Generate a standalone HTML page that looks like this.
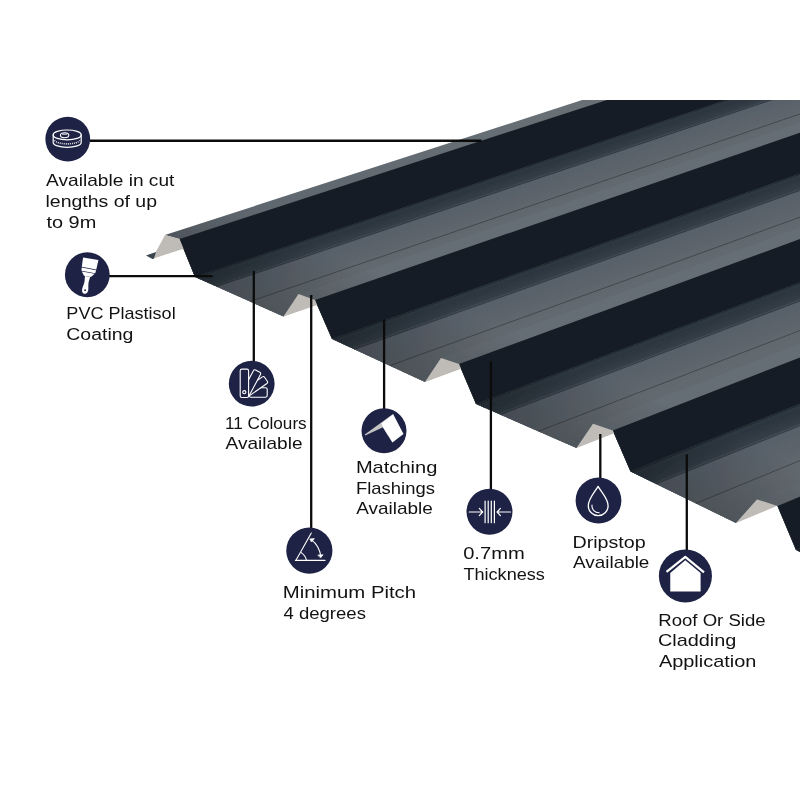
<!DOCTYPE html>
<html><head><meta charset="utf-8"><title>Roof Sheet</title>
<style>
html,body{margin:0;padding:0;background:#fff;}
body{width:800px;height:800px;position:relative;overflow:hidden;}
svg{position:absolute;left:0;top:0;}
text{font-family:"Liberation Sans",sans-serif;font-size:16.2px;fill:#111111;}
</style></head>
<body>
<svg width="800" height="800" viewBox="0 0 800 800">
<defs><clipPath id="c"><rect x="0" y="100" width="800" height="700"/></clipPath>
<filter id="soft" x="-5%" y="-5%" width="110%" height="110%"><feGaussianBlur stdDeviation="0.45"/></filter></defs>
<g clip-path="url(#c)"><g filter="url(#soft)">
<defs>
<linearGradient id="top1" gradientUnits="userSpaceOnUse" x1="165" y1="235" x2="582" y2="100">
<stop offset="0" stop-color="#5b636b"/><stop offset="0.5" stop-color="#636b72"/><stop offset="1" stop-color="#687076"/></linearGradient>
<linearGradient id="front" gradientUnits="userSpaceOnUse" x1="450" y1="394" x2="483" y2="321">
<stop offset="0" stop-color="#000" stop-opacity="0.22"/><stop offset="1" stop-color="#000" stop-opacity="0"/></linearGradient>
<clipPath id="rc"><polygon points="195.0,277.0 283.5,316.5 298.5,294.0 1302.7,-50.0 1176.9,-50.0" fill="#000"/>
<polygon points="332.0,339.0 425.0,382.0 441.0,358.0 1561.7,-50.0 1433.6,-50.0" fill="#000"/>
<polygon points="476.0,404.0 576.5,448.0 593.0,423.8 1814.7,-50.0 1685.6,-50.0" fill="#000"/>
<polygon points="630.5,471.5 736.0,523.0 757.0,499.4 2077.5,-50.0 1933.8,-50.0" fill="#000"/>
<polygon points="796.0,550.0 946.0,620.0 961.0,596.0 2382.6,-50.0 2192.3,-50.0" fill="#000"/>
<polygon points="165.0,235.0 179.5,239.0 1068.2,-50.0 1045.7,-50.0" fill="#000"/>
<polygon points="298.5,294.0 315.0,300.0 1330.2,-50.0 1302.7,-50.0" fill="#000"/>
<polygon points="441.0,358.0 459.0,364.0 1588.7,-50.0 1561.7,-50.0" fill="#000"/>
<polygon points="593.0,423.8 612.8,430.6 1842.9,-50.0 1814.7,-50.0" fill="#000"/>
<polygon points="757.0,499.4 777.5,506.0 2104.0,-50.0 2077.5,-50.0" fill="#000"/></clipPath>
</defs>
<polygon points="179.5,239.0 195.0,277.0 283.5,316.5 298.5,294.0 315.0,300.0 1330.2,-50.0 1068.2,-50.0" fill="#5d656d"/>
<polygon points="179.5,239.0 195.0,277.0 197.4,278.1 1181.4,-50.0 1068.2,-50.0" fill="#202931"/>
<polygon points="196.5,277.7 198.8,278.7 1184.3,-50.0 1179.7,-50.0" fill="#2f3941"/>
<polygon points="197.9,278.3 200.3,279.4 1187.1,-50.0 1182.6,-50.0" fill="#2f3841"/>
<polygon points="199.4,279.0 201.8,280.0 1189.9,-50.0 1185.4,-50.0" fill="#2d363f"/>
<polygon points="200.9,279.6 203.3,280.7 1192.7,-50.0 1188.2,-50.0" fill="#2d3740"/>
<polygon points="202.4,280.3 204.7,281.3 1195.6,-50.0 1191.0,-50.0" fill="#2e3740"/>
<polygon points="203.8,280.9 206.2,282.0 1198.4,-50.0 1193.9,-50.0" fill="#2f3841"/>
<polygon points="205.3,281.6 207.7,282.7 1201.2,-50.0 1196.7,-50.0" fill="#303942"/>
<polygon points="206.8,282.3 209.2,283.3 1204.0,-50.0 1199.5,-50.0" fill="#313a43"/>
<polygon points="208.3,282.9 210.6,284.0 1206.8,-50.0 1202.3,-50.0" fill="#313b44"/>
<polygon points="209.8,283.6 212.1,284.6 1209.6,-50.0 1205.1,-50.0" fill="#323c45"/>
<polygon points="211.2,284.2 213.6,285.3 1212.5,-50.0 1208.0,-50.0" fill="#333d46"/>
<polygon points="212.7,284.9 215.1,286.0 1215.3,-50.0 1210.8,-50.0" fill="#343e47"/>
<polygon points="214.2,285.6 216.5,286.6 1218.1,-50.0 1213.6,-50.0" fill="#404953"/>
<polygon points="215.7,286.2 218.0,287.3 1220.9,-50.0 1216.4,-50.0" fill="#545c66"/>
<polygon points="217.1,286.9 219.5,287.9 1223.7,-50.0 1219.2,-50.0" fill="#58606a"/>
<polygon points="218.6,287.5 221.0,288.6 1226.5,-50.0 1222.0,-50.0" fill="#59616a"/>
<polygon points="220.1,288.2 222.4,289.2 1229.3,-50.0 1224.8,-50.0" fill="#59616b"/>
<polygon points="221.6,288.9 223.9,289.9 1232.1,-50.0 1227.6,-50.0" fill="#59616b"/>
<polygon points="223.0,289.5 225.4,290.6 1234.9,-50.0 1230.4,-50.0" fill="#5a626b"/>
<polygon points="224.5,290.2 226.9,291.2 1237.7,-50.0 1233.2,-50.0" fill="#5a626b"/>
<polygon points="226.0,290.8 228.3,291.9 1240.4,-50.0 1236.0,-50.0" fill="#5a626b"/>
<polygon points="227.4,291.5 229.8,292.5 1243.2,-50.0 1238.8,-50.0" fill="#5b636b"/>
<polygon points="228.9,292.1 231.3,293.2 1246.0,-50.0 1241.6,-50.0" fill="#5b636c"/>
<polygon points="230.4,292.8 232.8,293.9 1248.8,-50.0 1244.4,-50.0" fill="#5b636c"/>
<polygon points="231.9,293.5 234.2,294.5 1251.6,-50.0 1247.1,-50.0" fill="#5c646c"/>
<polygon points="233.3,294.1 235.7,295.2 1254.4,-50.0 1249.9,-50.0" fill="#5c646c"/>
<polygon points="234.8,294.8 237.2,295.8 1257.1,-50.0 1252.7,-50.0" fill="#5c646c"/>
<polygon points="236.3,295.4 238.7,296.5 1259.9,-50.0 1255.5,-50.0" fill="#5d656d"/>
<polygon points="237.8,296.1 240.1,297.1 1262.7,-50.0 1258.3,-50.0" fill="#5d656d"/>
<polygon points="239.2,296.8 241.6,297.8 1265.5,-50.0 1261.0,-50.0" fill="#5d656d"/>
<polygon points="240.7,297.4 243.1,298.5 1268.2,-50.0 1263.8,-50.0" fill="#5e666d"/>
<polygon points="242.2,298.1 244.6,299.1 1271.0,-50.0 1266.6,-50.0" fill="#5e666d"/>
<polygon points="243.7,298.7 246.0,299.8 1273.8,-50.0 1269.4,-50.0" fill="#5e666e"/>
<polygon points="245.2,299.4 247.5,300.4 1276.5,-50.0 1272.1,-50.0" fill="#5f676e"/>
<polygon points="246.6,300.0 249.0,301.1 1279.3,-50.0 1274.9,-50.0" fill="#5f676e"/>
<polygon points="248.1,300.7 250.5,301.8 1282.1,-50.0 1277.6,-50.0" fill="#60686e"/>
<polygon points="249.6,301.4 251.9,302.4 1284.8,-50.0 1280.4,-50.0" fill="#62696f"/>
<polygon points="251.1,302.0 253.4,303.1 1287.6,-50.0 1283.2,-50.0" fill="#62696f"/>
<polygon points="252.5,302.7 254.9,303.7 1290.3,-50.0 1285.9,-50.0" fill="#62696f"/>
<polygon points="254.0,303.3 256.4,304.4 1293.1,-50.0 1288.7,-50.0" fill="#626970"/>
<polygon points="255.5,304.0 257.8,305.0 1295.8,-50.0 1291.4,-50.0" fill="#626a70"/>
<polygon points="256.9,304.6 259.3,305.7 1298.6,-50.0 1294.2,-50.0" fill="#636a70"/>
<polygon points="258.4,305.3 260.8,306.4 1301.3,-50.0 1296.9,-50.0" fill="#636a70"/>
<polygon points="259.9,306.0 262.3,307.0 1304.1,-50.0 1299.7,-50.0" fill="#636a71"/>
<polygon points="261.4,306.6 263.7,307.7 1306.8,-50.0 1302.4,-50.0" fill="#636a71"/>
<polygon points="262.9,307.3 265.2,308.3 1309.6,-50.0 1305.2,-50.0" fill="#636b71"/>
<polygon points="264.3,307.9 266.7,309.0 1312.3,-50.0 1307.9,-50.0" fill="#636b71"/>
<polygon points="265.8,308.6 268.2,309.7 1315.0,-50.0 1310.7,-50.0" fill="#636b71"/>
<polygon points="267.3,309.3 269.6,310.3 1317.8,-50.0 1313.4,-50.0" fill="#646b72"/>
<polygon points="268.8,309.9 271.1,311.0 1320.5,-50.0 1316.1,-50.0" fill="#646b72"/>
<polygon points="270.2,310.6 272.6,311.6 1323.2,-50.0 1318.9,-50.0" fill="#646b72"/>
<polygon points="271.7,311.2 274.1,312.3 1326.0,-50.0 1321.6,-50.0" fill="#646c72"/>
<polygon points="273.2,311.9 275.5,312.9 1328.7,-50.0 1324.3,-50.0" fill="#646c73"/>
<polygon points="274.6,312.6 277.0,313.6 1331.4,-50.0 1327.1,-50.0" fill="#646c73"/>
<polygon points="276.1,313.2 278.5,314.3 1334.2,-50.0 1329.8,-50.0" fill="#646c73"/>
<polygon points="277.6,313.9 280.0,314.9 1336.9,-50.0 1332.5,-50.0" fill="#656c73"/>
<polygon points="279.1,314.5 281.4,315.6 1339.6,-50.0 1335.2,-50.0" fill="#656d73"/>
<polygon points="280.6,315.2 282.9,316.2 1342.3,-50.0 1338.0,-50.0" fill="#656d74"/>
<polygon points="282.0,315.8 283.5,316.5 298.5,294.0 315.0,300.0 1330.2,-50.0 1340.7,-50.0" fill="#656d74"/>
<line x1="216.2" y1="286.5" x2="1217.5" y2="-50.0" stroke="#222a31" stroke-width="0.9" stroke-opacity="0.8"/>
<line x1="249.9" y1="301.5" x2="1281.0" y2="-50.0" stroke="#262e35" stroke-width="0.9" stroke-opacity="0.6"/>
<polygon points="315.0,300.0 332.0,339.0 425.0,382.0 441.0,358.0 459.0,364.0 1588.7,-50.0 1330.2,-50.0" fill="#5d656d"/>
<polygon points="315.0,300.0 332.0,339.0 334.5,340.1 1438.2,-50.0 1330.2,-50.0" fill="#202931"/>
<polygon points="333.6,339.7 336.0,340.9 1441.0,-50.0 1436.5,-50.0" fill="#2f3941"/>
<polygon points="335.1,340.4 337.6,341.6 1443.8,-50.0 1439.3,-50.0" fill="#2f3841"/>
<polygon points="336.6,341.1 339.1,342.3 1446.7,-50.0 1442.1,-50.0" fill="#2d363f"/>
<polygon points="338.2,341.9 340.7,343.0 1449.5,-50.0 1445.0,-50.0" fill="#2d3740"/>
<polygon points="339.8,342.6 342.2,343.7 1452.3,-50.0 1447.8,-50.0" fill="#2e3740"/>
<polygon points="341.3,343.3 343.8,344.4 1455.2,-50.0 1450.6,-50.0" fill="#2f3841"/>
<polygon points="342.9,344.0 345.3,345.2 1458.0,-50.0 1453.5,-50.0" fill="#303942"/>
<polygon points="344.4,344.7 346.9,345.9 1460.8,-50.0 1456.3,-50.0" fill="#313a43"/>
<polygon points="345.9,345.4 348.4,346.6 1463.6,-50.0 1459.1,-50.0" fill="#313b44"/>
<polygon points="347.5,346.2 350.0,347.3 1466.5,-50.0 1461.9,-50.0" fill="#323c45"/>
<polygon points="349.1,346.9 351.5,348.0 1469.3,-50.0 1464.8,-50.0" fill="#333d46"/>
<polygon points="350.6,347.6 353.1,348.7 1472.1,-50.0 1467.6,-50.0" fill="#343e47"/>
<polygon points="352.1,348.3 354.6,349.5 1474.9,-50.0 1470.4,-50.0" fill="#404953"/>
<polygon points="353.7,349.0 356.2,350.2 1477.7,-50.0 1473.2,-50.0" fill="#545c66"/>
<polygon points="355.2,349.8 357.7,350.9 1480.5,-50.0 1476.0,-50.0" fill="#58606a"/>
<polygon points="356.8,350.5 359.3,351.6 1483.3,-50.0 1478.8,-50.0" fill="#59616a"/>
<polygon points="358.4,351.2 360.8,352.3 1486.1,-50.0 1481.6,-50.0" fill="#59616b"/>
<polygon points="359.9,351.9 362.4,353.0 1488.9,-50.0 1484.5,-50.0" fill="#59616b"/>
<polygon points="361.4,352.6 363.9,353.8 1491.7,-50.0 1487.3,-50.0" fill="#5a626b"/>
<polygon points="363.0,353.3 365.5,354.5 1494.5,-50.0 1490.1,-50.0" fill="#5a626b"/>
<polygon points="364.6,354.1 367.0,355.2 1497.3,-50.0 1492.9,-50.0" fill="#5a626b"/>
<polygon points="366.1,354.8 368.6,355.9 1500.1,-50.0 1495.7,-50.0" fill="#5b636b"/>
<polygon points="367.6,355.5 370.1,356.6 1502.9,-50.0 1498.5,-50.0" fill="#5b636c"/>
<polygon points="369.2,356.2 371.7,357.3 1505.7,-50.0 1501.2,-50.0" fill="#5b636c"/>
<polygon points="370.8,356.9 373.2,358.1 1508.5,-50.0 1504.0,-50.0" fill="#5c646c"/>
<polygon points="372.3,357.6 374.8,358.8 1511.3,-50.0 1506.8,-50.0" fill="#5c646c"/>
<polygon points="373.9,358.4 376.3,359.5 1514.1,-50.0 1509.6,-50.0" fill="#5c646c"/>
<polygon points="375.4,359.1 377.9,360.2 1516.9,-50.0 1512.4,-50.0" fill="#5d656d"/>
<polygon points="376.9,359.8 379.4,360.9 1519.6,-50.0 1515.2,-50.0" fill="#5d656d"/>
<polygon points="378.5,360.5 381.0,361.6 1522.4,-50.0 1518.0,-50.0" fill="#5d656d"/>
<polygon points="380.1,361.2 382.5,362.4 1525.2,-50.0 1520.7,-50.0" fill="#5e666d"/>
<polygon points="381.6,361.9 384.1,363.1 1528.0,-50.0 1523.5,-50.0" fill="#5e666d"/>
<polygon points="383.1,362.6 385.6,363.8 1530.7,-50.0 1526.3,-50.0" fill="#5e666e"/>
<polygon points="384.7,363.4 387.2,364.5 1533.5,-50.0 1529.1,-50.0" fill="#5f676e"/>
<polygon points="386.2,364.1 388.7,365.2 1536.3,-50.0 1531.8,-50.0" fill="#5f676e"/>
<polygon points="387.8,364.8 390.3,365.9 1539.0,-50.0 1534.6,-50.0" fill="#60686e"/>
<polygon points="389.4,365.5 391.8,366.7 1541.8,-50.0 1537.4,-50.0" fill="#62696f"/>
<polygon points="390.9,366.2 393.4,367.4 1544.6,-50.0 1540.1,-50.0" fill="#62696f"/>
<polygon points="392.4,366.9 394.9,368.1 1547.3,-50.0 1542.9,-50.0" fill="#62696f"/>
<polygon points="394.0,367.7 396.5,368.8 1550.1,-50.0 1545.7,-50.0" fill="#626970"/>
<polygon points="395.6,368.4 398.0,369.5 1552.8,-50.0 1548.4,-50.0" fill="#626a70"/>
<polygon points="397.1,369.1 399.6,370.2 1555.6,-50.0 1551.2,-50.0" fill="#636a70"/>
<polygon points="398.6,369.8 401.1,371.0 1558.3,-50.0 1553.9,-50.0" fill="#636a70"/>
<polygon points="400.2,370.5 402.7,371.7 1561.1,-50.0 1556.7,-50.0" fill="#636a71"/>
<polygon points="401.8,371.2 404.2,372.4 1563.8,-50.0 1559.4,-50.0" fill="#636a71"/>
<polygon points="403.3,372.0 405.8,373.1 1566.6,-50.0 1562.2,-50.0" fill="#636b71"/>
<polygon points="404.9,372.7 407.3,373.8 1569.3,-50.0 1564.9,-50.0" fill="#636b71"/>
<polygon points="406.4,373.4 408.9,374.5 1572.1,-50.0 1567.7,-50.0" fill="#636b71"/>
<polygon points="407.9,374.1 410.4,375.3 1574.8,-50.0 1570.4,-50.0" fill="#646b72"/>
<polygon points="409.5,374.8 412.0,376.0 1577.5,-50.0 1573.2,-50.0" fill="#646b72"/>
<polygon points="411.1,375.6 413.5,376.7 1580.3,-50.0 1575.9,-50.0" fill="#646b72"/>
<polygon points="412.6,376.3 415.1,377.4 1583.0,-50.0 1578.6,-50.0" fill="#646c72"/>
<polygon points="414.1,377.0 416.6,378.1 1585.7,-50.0 1581.4,-50.0" fill="#646c73"/>
<polygon points="415.7,377.7 418.2,378.8 1588.5,-50.0 1584.1,-50.0" fill="#646c73"/>
<polygon points="417.2,378.4 419.7,379.6 1591.2,-50.0 1586.8,-50.0" fill="#646c73"/>
<polygon points="418.8,379.1 421.3,380.3 1593.9,-50.0 1589.6,-50.0" fill="#656c73"/>
<polygon points="420.4,379.9 422.8,381.0 1596.6,-50.0 1592.3,-50.0" fill="#656d73"/>
<polygon points="421.9,380.6 424.4,381.7 1599.4,-50.0 1595.0,-50.0" fill="#656d74"/>
<polygon points="423.4,381.3 425.0,382.0 441.0,358.0 459.0,364.0 1588.7,-50.0 1597.7,-50.0" fill="#656d74"/>
<line x1="354.3" y1="349.3" x2="1474.3" y2="-50.0" stroke="#222a31" stroke-width="0.9" stroke-opacity="0.8"/>
<line x1="389.7" y1="365.7" x2="1537.9" y2="-50.0" stroke="#262e35" stroke-width="0.9" stroke-opacity="0.6"/>
<polygon points="459.0,364.0 476.0,404.0 576.5,448.0 593.0,423.8 612.8,430.6 1842.9,-50.0 1588.7,-50.0" fill="#5d656d"/>
<polygon points="459.0,364.0 476.0,404.0 478.7,405.2 1690.0,-50.0 1588.7,-50.0" fill="#202931"/>
<polygon points="477.7,404.7 480.4,405.9 1692.8,-50.0 1688.4,-50.0" fill="#2f3941"/>
<polygon points="479.4,405.5 482.0,406.6 1695.6,-50.0 1691.2,-50.0" fill="#2f3841"/>
<polygon points="481.0,406.2 483.7,407.4 1698.4,-50.0 1693.9,-50.0" fill="#2d363f"/>
<polygon points="482.7,406.9 485.4,408.1 1701.2,-50.0 1696.7,-50.0" fill="#2d3740"/>
<polygon points="484.4,407.7 487.1,408.8 1703.9,-50.0 1699.5,-50.0" fill="#2e3740"/>
<polygon points="486.1,408.4 488.7,409.6 1706.7,-50.0 1702.3,-50.0" fill="#2f3841"/>
<polygon points="487.7,409.1 490.4,410.3 1709.5,-50.0 1705.0,-50.0" fill="#303942"/>
<polygon points="489.4,409.9 492.1,411.0 1712.2,-50.0 1707.8,-50.0" fill="#313a43"/>
<polygon points="491.1,410.6 493.8,411.8 1715.0,-50.0 1710.6,-50.0" fill="#313b44"/>
<polygon points="492.8,411.3 495.4,412.5 1717.8,-50.0 1713.3,-50.0" fill="#323c45"/>
<polygon points="494.4,412.1 497.1,413.2 1720.5,-50.0 1716.1,-50.0" fill="#333d46"/>
<polygon points="496.1,412.8 498.8,414.0 1723.3,-50.0 1718.9,-50.0" fill="#343e47"/>
<polygon points="497.8,413.5 500.5,414.7 1726.1,-50.0 1721.6,-50.0" fill="#404953"/>
<polygon points="499.4,414.3 502.1,415.4 1728.8,-50.0 1724.4,-50.0" fill="#545c66"/>
<polygon points="501.1,415.0 503.8,416.2 1731.6,-50.0 1727.2,-50.0" fill="#58606a"/>
<polygon points="502.8,415.7 505.5,416.9 1734.3,-50.0 1729.9,-50.0" fill="#59616a"/>
<polygon points="504.5,416.5 507.2,417.6 1737.1,-50.0 1732.7,-50.0" fill="#59616b"/>
<polygon points="506.1,417.2 508.8,418.4 1739.8,-50.0 1735.4,-50.0" fill="#59616b"/>
<polygon points="507.8,417.9 510.5,419.1 1742.6,-50.0 1738.2,-50.0" fill="#5a626b"/>
<polygon points="509.5,418.7 512.2,419.8 1745.3,-50.0 1740.9,-50.0" fill="#5a626b"/>
<polygon points="511.2,419.4 513.9,420.6 1748.0,-50.0 1743.7,-50.0" fill="#5a626b"/>
<polygon points="512.9,420.1 515.5,421.3 1750.8,-50.0 1746.4,-50.0" fill="#5b636b"/>
<polygon points="514.5,420.9 517.2,422.0 1753.5,-50.0 1749.1,-50.0" fill="#5b636c"/>
<polygon points="516.2,421.6 518.9,422.8 1756.3,-50.0 1751.9,-50.0" fill="#5b636c"/>
<polygon points="517.9,422.3 520.6,423.5 1759.0,-50.0 1754.6,-50.0" fill="#5c646c"/>
<polygon points="519.5,423.1 522.2,424.2 1761.7,-50.0 1757.3,-50.0" fill="#5c646c"/>
<polygon points="521.2,423.8 523.9,425.0 1764.4,-50.0 1760.1,-50.0" fill="#5c646c"/>
<polygon points="522.9,424.5 525.6,425.7 1767.2,-50.0 1762.8,-50.0" fill="#5d656d"/>
<polygon points="524.6,425.3 527.3,426.4 1769.9,-50.0 1765.5,-50.0" fill="#5d656d"/>
<polygon points="526.2,426.0 528.9,427.2 1772.6,-50.0 1768.3,-50.0" fill="#5d656d"/>
<polygon points="527.9,426.7 530.6,427.9 1775.3,-50.0 1771.0,-50.0" fill="#5e666d"/>
<polygon points="529.6,427.5 532.3,428.6 1778.1,-50.0 1773.7,-50.0" fill="#5e666d"/>
<polygon points="531.3,428.2 534.0,429.4 1780.8,-50.0 1776.4,-50.0" fill="#5e666e"/>
<polygon points="533.0,428.9 535.6,430.1 1783.5,-50.0 1779.1,-50.0" fill="#5f676e"/>
<polygon points="534.6,429.7 537.3,430.8 1786.2,-50.0 1781.9,-50.0" fill="#5f676e"/>
<polygon points="536.3,430.4 539.0,431.6 1788.9,-50.0 1784.6,-50.0" fill="#60686e"/>
<polygon points="538.0,431.1 540.7,432.3 1791.6,-50.0 1787.3,-50.0" fill="#62696f"/>
<polygon points="539.6,431.9 542.3,433.0 1794.3,-50.0 1790.0,-50.0" fill="#62696f"/>
<polygon points="541.3,432.6 544.0,433.8 1797.0,-50.0 1792.7,-50.0" fill="#62696f"/>
<polygon points="543.0,433.3 545.7,434.5 1799.7,-50.0 1795.4,-50.0" fill="#626970"/>
<polygon points="544.7,434.1 547.4,435.2 1802.4,-50.0 1798.1,-50.0" fill="#626a70"/>
<polygon points="546.4,434.8 549.0,436.0 1805.1,-50.0 1800.8,-50.0" fill="#636a70"/>
<polygon points="548.0,435.5 550.7,436.7 1807.8,-50.0 1803.5,-50.0" fill="#636a70"/>
<polygon points="549.7,436.3 552.4,437.4 1810.5,-50.0 1806.2,-50.0" fill="#636a71"/>
<polygon points="551.4,437.0 554.1,438.2 1813.2,-50.0 1808.9,-50.0" fill="#636a71"/>
<polygon points="553.0,437.7 555.7,438.9 1815.9,-50.0 1811.6,-50.0" fill="#636b71"/>
<polygon points="554.7,438.5 557.4,439.6 1818.6,-50.0 1814.3,-50.0" fill="#636b71"/>
<polygon points="556.4,439.2 559.1,440.4 1821.3,-50.0 1817.0,-50.0" fill="#636b71"/>
<polygon points="558.1,439.9 560.8,441.1 1824.0,-50.0 1819.7,-50.0" fill="#646b72"/>
<polygon points="559.8,440.7 562.4,441.8 1826.7,-50.0 1822.4,-50.0" fill="#646b72"/>
<polygon points="561.4,441.4 564.1,442.6 1829.3,-50.0 1825.1,-50.0" fill="#646b72"/>
<polygon points="563.1,442.1 565.8,443.3 1832.0,-50.0 1827.7,-50.0" fill="#646c72"/>
<polygon points="564.8,442.9 567.5,444.0 1834.7,-50.0 1830.4,-50.0" fill="#646c73"/>
<polygon points="566.5,443.6 569.1,444.8 1837.4,-50.0 1833.1,-50.0" fill="#646c73"/>
<polygon points="568.1,444.3 570.8,445.5 1840.1,-50.0 1835.8,-50.0" fill="#646c73"/>
<polygon points="569.8,445.1 572.5,446.2 1842.7,-50.0 1838.4,-50.0" fill="#656c73"/>
<polygon points="571.5,445.8 574.2,447.0 1845.4,-50.0 1841.1,-50.0" fill="#656d73"/>
<polygon points="573.1,446.5 575.8,447.7 1848.1,-50.0 1843.8,-50.0" fill="#656d74"/>
<polygon points="574.8,447.3 576.5,448.0 593.0,423.8 612.8,430.6 1842.9,-50.0 1846.5,-50.0" fill="#656d74"/>
<line x1="500.1" y1="414.6" x2="1725.5" y2="-50.0" stroke="#222a31" stroke-width="0.9" stroke-opacity="0.8"/>
<line x1="538.3" y1="431.3" x2="1787.8" y2="-50.0" stroke="#262e35" stroke-width="0.9" stroke-opacity="0.6"/>
<polygon points="612.8,430.6 630.5,471.5 736.0,523.0 757.0,499.4 777.5,506.0 2104.0,-50.0 1842.9,-50.0" fill="#5d656d"/>
<polygon points="612.8,430.6 630.5,471.5 633.3,472.9 1938.4,-50.0 1842.9,-50.0" fill="#202931"/>
<polygon points="632.3,472.4 635.1,473.7 1941.3,-50.0 1936.7,-50.0" fill="#2f3941"/>
<polygon points="634.0,473.2 636.8,474.6 1944.2,-50.0 1939.6,-50.0" fill="#2f3841"/>
<polygon points="635.8,474.1 638.6,475.4 1947.1,-50.0 1942.5,-50.0" fill="#2d363f"/>
<polygon points="637.5,474.9 640.3,476.3 1950.0,-50.0 1945.4,-50.0" fill="#2d3740"/>
<polygon points="639.3,475.8 642.1,477.2 1952.9,-50.0 1948.3,-50.0" fill="#2e3740"/>
<polygon points="641.0,476.6 643.9,478.0 1955.8,-50.0 1951.1,-50.0" fill="#2f3841"/>
<polygon points="642.8,477.5 645.6,478.9 1958.6,-50.0 1954.0,-50.0" fill="#303942"/>
<polygon points="644.6,478.4 647.4,479.7 1961.5,-50.0 1956.9,-50.0" fill="#313a43"/>
<polygon points="646.3,479.2 649.1,480.6 1964.4,-50.0 1959.8,-50.0" fill="#313b44"/>
<polygon points="648.1,480.1 650.9,481.5 1967.3,-50.0 1962.7,-50.0" fill="#323c45"/>
<polygon points="649.8,480.9 652.7,482.3 1970.1,-50.0 1965.5,-50.0" fill="#333d46"/>
<polygon points="651.6,481.8 654.4,483.2 1973.0,-50.0 1968.4,-50.0" fill="#343e47"/>
<polygon points="653.4,482.7 656.2,484.0 1975.8,-50.0 1971.3,-50.0" fill="#404953"/>
<polygon points="655.1,483.5 657.9,484.9 1978.7,-50.0 1974.1,-50.0" fill="#545c66"/>
<polygon points="656.9,484.4 659.7,485.7 1981.6,-50.0 1977.0,-50.0" fill="#58606a"/>
<polygon points="658.6,485.2 661.4,486.6 1984.4,-50.0 1979.9,-50.0" fill="#59616a"/>
<polygon points="660.4,486.1 663.2,487.5 1987.3,-50.0 1982.7,-50.0" fill="#59616b"/>
<polygon points="662.1,486.9 665.0,488.3 1990.1,-50.0 1985.6,-50.0" fill="#59616b"/>
<polygon points="663.9,487.8 666.7,489.2 1993.0,-50.0 1988.4,-50.0" fill="#5a626b"/>
<polygon points="665.7,488.7 668.5,490.0 1995.8,-50.0 1991.3,-50.0" fill="#5a626b"/>
<polygon points="667.4,489.5 670.2,490.9 1998.7,-50.0 1994.1,-50.0" fill="#5a626b"/>
<polygon points="669.2,490.4 672.0,491.8 2001.5,-50.0 1997.0,-50.0" fill="#5b636b"/>
<polygon points="670.9,491.2 673.8,492.6 2004.4,-50.0 1999.8,-50.0" fill="#5b636c"/>
<polygon points="672.7,492.1 675.5,493.5 2007.2,-50.0 2002.6,-50.0" fill="#5b636c"/>
<polygon points="674.5,493.0 677.3,494.3 2010.0,-50.0 2005.5,-50.0" fill="#5c646c"/>
<polygon points="676.2,493.8 679.0,495.2 2012.9,-50.0 2008.3,-50.0" fill="#5c646c"/>
<polygon points="678.0,494.7 680.8,496.0 2015.7,-50.0 2011.2,-50.0" fill="#5c646c"/>
<polygon points="679.7,495.5 682.5,496.9 2018.5,-50.0 2014.0,-50.0" fill="#5d656d"/>
<polygon points="681.5,496.4 684.3,497.8 2021.3,-50.0 2016.8,-50.0" fill="#5d656d"/>
<polygon points="683.2,497.2 686.1,498.6 2024.2,-50.0 2019.6,-50.0" fill="#5d656d"/>
<polygon points="685.0,498.1 687.8,499.5 2027.0,-50.0 2022.5,-50.0" fill="#5e666d"/>
<polygon points="686.8,499.0 689.6,500.3 2029.8,-50.0 2025.3,-50.0" fill="#5e666d"/>
<polygon points="688.5,499.8 691.3,501.2 2032.6,-50.0 2028.1,-50.0" fill="#5e666e"/>
<polygon points="690.3,500.7 693.1,502.1 2035.4,-50.0 2030.9,-50.0" fill="#5f676e"/>
<polygon points="692.0,501.5 694.9,502.9 2038.2,-50.0 2033.7,-50.0" fill="#5f676e"/>
<polygon points="693.8,502.4 696.6,503.8 2041.1,-50.0 2036.6,-50.0" fill="#60686e"/>
<polygon points="695.6,503.3 698.4,504.6 2043.9,-50.0 2039.4,-50.0" fill="#62696f"/>
<polygon points="697.3,504.1 700.1,505.5 2046.7,-50.0 2042.2,-50.0" fill="#62696f"/>
<polygon points="699.1,505.0 701.9,506.3 2049.5,-50.0 2045.0,-50.0" fill="#62696f"/>
<polygon points="700.8,505.8 703.6,507.2 2052.3,-50.0 2047.8,-50.0" fill="#626970"/>
<polygon points="702.6,506.7 705.4,508.1 2055.1,-50.0 2050.6,-50.0" fill="#626a70"/>
<polygon points="704.4,507.6 707.2,508.9 2057.9,-50.0 2053.4,-50.0" fill="#636a70"/>
<polygon points="706.1,508.4 708.9,509.8 2060.6,-50.0 2056.2,-50.0" fill="#636a70"/>
<polygon points="707.9,509.3 710.7,510.6 2063.4,-50.0 2059.0,-50.0" fill="#636a71"/>
<polygon points="709.6,510.1 712.4,511.5 2066.2,-50.0 2061.8,-50.0" fill="#636a71"/>
<polygon points="711.4,511.0 714.2,512.4 2069.0,-50.0 2064.6,-50.0" fill="#636b71"/>
<polygon points="713.1,511.8 716.0,513.2 2071.8,-50.0 2067.3,-50.0" fill="#636b71"/>
<polygon points="714.9,512.7 717.7,514.1 2074.6,-50.0 2070.1,-50.0" fill="#636b71"/>
<polygon points="716.7,513.6 719.5,514.9 2077.4,-50.0 2072.9,-50.0" fill="#646b72"/>
<polygon points="718.4,514.4 721.2,515.8 2080.1,-50.0 2075.7,-50.0" fill="#646b72"/>
<polygon points="720.2,515.3 723.0,516.6 2082.9,-50.0 2078.5,-50.0" fill="#646b72"/>
<polygon points="721.9,516.1 724.7,517.5 2085.7,-50.0 2081.2,-50.0" fill="#646c72"/>
<polygon points="723.7,517.0 726.5,518.4 2088.4,-50.0 2084.0,-50.0" fill="#646c73"/>
<polygon points="725.5,517.9 728.3,519.2 2091.2,-50.0 2086.8,-50.0" fill="#646c73"/>
<polygon points="727.2,518.7 730.0,520.1 2094.0,-50.0 2089.6,-50.0" fill="#646c73"/>
<polygon points="729.0,519.6 731.8,520.9 2096.7,-50.0 2092.3,-50.0" fill="#656c73"/>
<polygon points="730.7,520.4 733.5,521.8 2099.5,-50.0 2095.1,-50.0" fill="#656d73"/>
<polygon points="732.5,521.3 735.3,522.7 2102.3,-50.0 2097.8,-50.0" fill="#656d74"/>
<polygon points="734.2,522.1 736.0,523.0 757.0,499.4 777.5,506.0 2104.0,-50.0 2100.6,-50.0" fill="#656d74"/>
<line x1="655.8" y1="483.9" x2="1975.3" y2="-50.0" stroke="#222a31" stroke-width="0.9" stroke-opacity="0.8"/>
<line x1="695.9" y1="503.4" x2="2039.9" y2="-50.0" stroke="#262e35" stroke-width="0.9" stroke-opacity="0.6"/>
<polygon points="777.5,506.0 796.0,550.0 946.0,620.0 961.0,596.0 976.0,602.0 2402.2,-50.0 2104.0,-50.0" fill="#5d656d"/>
<polygon points="777.5,506.0 796.0,550.0 800.0,551.9 2198.2,-50.0 2104.0,-50.0" fill="#202931"/>
<polygon points="798.5,551.2 802.5,553.0 2202.0,-50.0 2196.0,-50.0" fill="#2f3941"/>
<polygon points="801.0,552.3 805.0,554.2 2205.7,-50.0 2199.7,-50.0" fill="#2f3841"/>
<polygon points="803.5,553.5 807.5,555.4 2209.4,-50.0 2203.5,-50.0" fill="#2d363f"/>
<polygon points="806.0,554.7 810.0,556.5 2213.1,-50.0 2207.2,-50.0" fill="#2d3740"/>
<polygon points="808.5,555.8 812.5,557.7 2216.8,-50.0 2210.9,-50.0" fill="#2e3740"/>
<polygon points="811.0,557.0 815.0,558.9 2220.5,-50.0 2214.6,-50.0" fill="#2f3841"/>
<polygon points="813.5,558.2 817.5,560.0 2224.2,-50.0 2218.3,-50.0" fill="#303942"/>
<polygon points="816.0,559.3 820.0,561.2 2227.9,-50.0 2222.0,-50.0" fill="#313a43"/>
<polygon points="818.5,560.5 822.5,562.4 2231.6,-50.0 2225.7,-50.0" fill="#313b44"/>
<polygon points="821.0,561.7 825.0,563.5 2235.2,-50.0 2229.4,-50.0" fill="#323c45"/>
<polygon points="823.5,562.8 827.5,564.7 2238.9,-50.0 2233.0,-50.0" fill="#333d46"/>
<polygon points="826.0,564.0 830.0,565.9 2242.6,-50.0 2236.7,-50.0" fill="#343e47"/>
<polygon points="828.5,565.2 832.5,567.0 2246.3,-50.0 2240.4,-50.0" fill="#404953"/>
<polygon points="831.0,566.3 835.0,568.2 2249.9,-50.0 2244.1,-50.0" fill="#545c66"/>
<polygon points="833.5,567.5 837.5,569.4 2253.6,-50.0 2247.7,-50.0" fill="#58606a"/>
<polygon points="836.0,568.7 840.0,570.5 2257.3,-50.0 2251.4,-50.0" fill="#59616a"/>
<polygon points="838.5,569.8 842.5,571.7 2260.9,-50.0 2255.1,-50.0" fill="#59616b"/>
<polygon points="841.0,571.0 845.0,572.9 2264.6,-50.0 2258.7,-50.0" fill="#59616b"/>
<polygon points="843.5,572.2 847.5,574.0 2268.2,-50.0 2262.4,-50.0" fill="#5a626b"/>
<polygon points="846.0,573.3 850.0,575.2 2271.8,-50.0 2266.0,-50.0" fill="#5a626b"/>
<polygon points="848.5,574.5 852.5,576.4 2275.5,-50.0 2269.7,-50.0" fill="#5a626b"/>
<polygon points="851.0,575.7 855.0,577.5 2279.1,-50.0 2273.3,-50.0" fill="#5b636b"/>
<polygon points="853.5,576.8 857.5,578.7 2282.7,-50.0 2276.9,-50.0" fill="#5b636c"/>
<polygon points="856.0,578.0 860.0,579.9 2286.4,-50.0 2280.6,-50.0" fill="#5b636c"/>
<polygon points="858.5,579.2 862.5,581.0 2290.0,-50.0 2284.2,-50.0" fill="#5c646c"/>
<polygon points="861.0,580.3 865.0,582.2 2293.6,-50.0 2287.8,-50.0" fill="#5c646c"/>
<polygon points="863.5,581.5 867.5,583.4 2297.2,-50.0 2291.4,-50.0" fill="#5c646c"/>
<polygon points="866.0,582.7 870.0,584.5 2300.8,-50.0 2295.1,-50.0" fill="#5d656d"/>
<polygon points="868.5,583.8 872.5,585.7 2304.4,-50.0 2298.7,-50.0" fill="#5d656d"/>
<polygon points="871.0,585.0 875.0,586.9 2308.0,-50.0 2302.3,-50.0" fill="#5d656d"/>
<polygon points="873.5,586.2 877.5,588.0 2311.6,-50.0 2305.9,-50.0" fill="#5e666d"/>
<polygon points="876.0,587.3 880.0,589.2 2315.2,-50.0 2309.5,-50.0" fill="#5e666d"/>
<polygon points="878.5,588.5 882.5,590.4 2318.8,-50.0 2313.1,-50.0" fill="#5e666e"/>
<polygon points="881.0,589.7 885.0,591.5 2322.4,-50.0 2316.7,-50.0" fill="#5f676e"/>
<polygon points="883.5,590.8 887.5,592.7 2326.0,-50.0 2320.3,-50.0" fill="#5f676e"/>
<polygon points="886.0,592.0 890.0,593.9 2329.6,-50.0 2323.8,-50.0" fill="#60686e"/>
<polygon points="888.5,593.2 892.5,595.0 2333.1,-50.0 2327.4,-50.0" fill="#62696f"/>
<polygon points="891.0,594.3 895.0,596.2 2336.7,-50.0 2331.0,-50.0" fill="#62696f"/>
<polygon points="893.5,595.5 897.5,597.4 2340.3,-50.0 2334.6,-50.0" fill="#62696f"/>
<polygon points="896.0,596.7 900.0,598.5 2343.8,-50.0 2338.1,-50.0" fill="#626970"/>
<polygon points="898.5,597.8 902.5,599.7 2347.4,-50.0 2341.7,-50.0" fill="#626a70"/>
<polygon points="901.0,599.0 905.0,600.9 2351.0,-50.0 2345.3,-50.0" fill="#636a70"/>
<polygon points="903.5,600.2 907.5,602.0 2354.5,-50.0 2348.8,-50.0" fill="#636a70"/>
<polygon points="906.0,601.3 910.0,603.2 2358.1,-50.0 2352.4,-50.0" fill="#636a71"/>
<polygon points="908.5,602.5 912.5,604.4 2361.6,-50.0 2355.9,-50.0" fill="#636a71"/>
<polygon points="911.0,603.7 915.0,605.5 2365.1,-50.0 2359.5,-50.0" fill="#636b71"/>
<polygon points="913.5,604.8 917.5,606.7 2368.7,-50.0 2363.0,-50.0" fill="#636b71"/>
<polygon points="916.0,606.0 920.0,607.9 2372.2,-50.0 2366.6,-50.0" fill="#636b71"/>
<polygon points="918.5,607.2 922.5,609.0 2375.7,-50.0 2370.1,-50.0" fill="#646b72"/>
<polygon points="921.0,608.3 925.0,610.2 2379.3,-50.0 2373.6,-50.0" fill="#646b72"/>
<polygon points="923.5,609.5 927.5,611.4 2382.8,-50.0 2377.1,-50.0" fill="#646b72"/>
<polygon points="926.0,610.7 930.0,612.5 2386.3,-50.0 2380.7,-50.0" fill="#646c72"/>
<polygon points="928.5,611.8 932.5,613.7 2389.8,-50.0 2384.2,-50.0" fill="#646c73"/>
<polygon points="931.0,613.0 935.0,614.9 2393.3,-50.0 2387.7,-50.0" fill="#646c73"/>
<polygon points="933.5,614.2 937.5,616.0 2396.8,-50.0 2391.2,-50.0" fill="#646c73"/>
<polygon points="936.0,615.3 940.0,617.2 2400.3,-50.0 2394.7,-50.0" fill="#656c73"/>
<polygon points="938.5,616.5 942.5,618.4 2403.8,-50.0 2398.2,-50.0" fill="#656d73"/>
<polygon points="941.0,617.7 945.0,619.5 2407.3,-50.0 2401.7,-50.0" fill="#656d74"/>
<polygon points="943.5,618.8 946.0,620.0 961.0,596.0 976.0,602.0 2402.2,-50.0 2405.2,-50.0" fill="#656d74"/>
<line x1="832.0" y1="566.8" x2="2245.5" y2="-50.0" stroke="#222a31" stroke-width="0.9" stroke-opacity="0.8"/>
<line x1="889.0" y1="593.4" x2="2328.1" y2="-50.0" stroke="#262e35" stroke-width="0.9" stroke-opacity="0.6"/>
<polygon points="165.0,235.0 179.5,239.0 195.0,277.0 1176.9,-50.0 1045.7,-50.0" fill="url(#top1)"/>
<polygon points="179.5,239.0 195.0,277.0 1176.9,-50.0 1068.2,-50.0" fill="#171e25"/>
<polygon points="298.5,294.0 315.0,300.0 332.0,339.0 1433.6,-50.0 1302.7,-50.0" fill="#656d74"/>
<polygon points="315.0,300.0 332.0,339.0 1433.6,-50.0 1330.2,-50.0" fill="#171e25"/>
<polygon points="441.0,358.0 459.0,364.0 476.0,404.0 1685.6,-50.0 1561.7,-50.0" fill="#656d74"/>
<polygon points="459.0,364.0 476.0,404.0 1685.6,-50.0 1588.7,-50.0" fill="#171e25"/>
<polygon points="593.0,423.8 612.8,430.6 630.5,471.5 1933.8,-50.0 1814.7,-50.0" fill="#656d74"/>
<polygon points="612.8,430.6 630.5,471.5 1933.8,-50.0 1842.9,-50.0" fill="#171e25"/>
<polygon points="757.0,499.4 777.5,506.0 796.0,550.0 2192.3,-50.0 2077.5,-50.0" fill="#656d74"/>
<polygon points="777.5,506.0 796.0,550.0 2192.3,-50.0 2104.0,-50.0" fill="#171e25"/>
<rect x="0" y="0" width="800" height="800" fill="url(#front)" clip-path="url(#rc)"/>
<polygon points="152.0,259.0 165.0,235.0 179.5,239.0 183.5,248.7" fill="#bfbcb7"/>
<polygon points="283.5,316.5 298.5,294.0 315.0,300.0 317.1,304.9" fill="#bfbcb7"/>
<polygon points="425.0,382.0 441.0,358.0 459.0,364.0 461.0,368.8" fill="#bfbcb7"/>
<polygon points="576.5,448.0 593.0,423.8 612.8,430.6 614.0,433.3" fill="#bfbcb7"/>
<polygon points="736.0,523.0 757.0,499.4 777.5,506.0 777.4,505.7" fill="#bfbcb7"/>
<polygon points="146.0,255.5 156.0,252.0 154.0,258.5 152.5,259.0" fill="#3a444d"/>
</g></g>
<g stroke="#0b0b0b" stroke-width="2.3">
<line x1="90" y1="140.75" x2="481.5" y2="140.75"/>
<line x1="109" y1="276.2" x2="212.5" y2="276.2"/>
<line x1="253.8" y1="271" x2="253.8" y2="362"/>
<line x1="311.2" y1="295" x2="311.2" y2="529"/>
<line x1="384.1" y1="319.6" x2="384.1" y2="410"/>
<line x1="490.9" y1="361.75" x2="490.9" y2="490"/>
<line x1="600.3" y1="434" x2="600.3" y2="479"/>
<line x1="686.8" y1="454.4" x2="686.8" y2="551"/>
</g>
<g fill="#1e2345">
<circle cx="67.75" cy="139.1" r="22.4"/>
<circle cx="87.3" cy="274.75" r="22.4"/>
<circle cx="251.7" cy="383.7" r="22.9"/>
<circle cx="384" cy="430.8" r="22.5"/>
<circle cx="309.35" cy="550.7" r="23.1"/>
<circle cx="489.5" cy="511.7" r="23"/>
<circle cx="598.5" cy="500.5" r="22.9"/>
<circle cx="685.4" cy="576" r="26.55"/>
</g>

<g fill="none" stroke="#fff" stroke-width="1.1" stroke-linecap="round" stroke-linejoin="round">
 <!-- 1 tape measure -->
 <ellipse cx="67.2" cy="134.9" rx="14" ry="4.9" stroke-width="1.2"/>
 <ellipse cx="64.6" cy="135.3" rx="4.2" ry="2.5" stroke-width="1.1"/>
 <path d="M62.5 134.2 H66.8" stroke-width="0.9"/>
 <path d="M53.2 134.9 V142.4 A14 4.9 0 0 0 81.2 142.4 V134.9" stroke-width="1.2"/>
 <path d="M54.6 140.4 A12.8 4.2 0 0 0 79.8 140.4" stroke-width="1.6" stroke-dasharray="0.9 1.1" stroke-linecap="butt"/>
 <!-- 3 fan -->
 <g fill="#1e2345">
  <rect x="249" y="387.7" width="18.2" height="9.5" rx="1.6"/>
  <rect x="249" y="388" width="23.5" height="8" rx="1.6" transform="rotate(-35 249 396)"/>
  <rect x="249" y="388" width="26" height="8" rx="1.6" transform="rotate(-62 249 396)"/>
  <rect x="240.2" y="369.1" width="8.4" height="28.4" rx="1.6"/>
 </g>
 <circle cx="244.3" cy="392.2" r="1.6"/>
 <!-- 5 angle -->
 <path d="M295.4 560.4 H325"/>
 <path d="M296 560.2 L311.3 533.1"/>
 <path d="M301.2 552.6 Q305.5 555.5 306.4 560.2"/>
 <path d="M311 539.4 A25 25 0 0 1 320.8 556.9"/>
 <path d="M310.2 538.9 L314.4 538.6 L311.6 541.7 Z" fill="#fff" stroke-width="0.7"/>
 <path d="M318.2 555.1 L323.1 554.8 L320.7 557.6 Z" fill="#fff" stroke-width="0.7"/>
 <!-- 6 thickness -->
 <path d="M485.1 501 V522.7 M488.2 501 V522.7 M491.3 501 V522.7 M494.4 501 V522.7" stroke-width="1.2"/>
 <path d="M469.2 512 H482.5 M479.3 508.4 L482.6 512 L479.3 515.6" stroke-width="1.2"/>
 <path d="M510.5 512 H497.2 M500.4 508.4 L497.1 512 L500.4 515.6" stroke-width="1.2"/>
 <!-- 7 droplet -->
 <path d="M598.1 486.4 C595 492 588.3 498.5 588.3 505.8 A9.9 9.9 0 0 0 608.1 505.8 C608.1 498.5 601.2 492 598.1 486.4 Z" stroke-width="1.3"/>
 <path d="M592 505 A7 7 0 0 0 599.2 512.8" stroke-width="1.1"/>
 <!-- 8 house roof -->
 <path d="M666.5 571.9 L685.3 556.9 L704 572.3" stroke-width="2.2" stroke-linecap="butt"/>
</g>
<g fill="#fff">
 <!-- 2 paintbrush -->
 <g transform="translate(-0.8 0.4) rotate(10 88 275)">
  <path d="M80.8 258 H96.4 L95.9 267.5 H81.2 Z"/>
  <path d="M81.2 268.3 H95.9 L95.5 271.5 H81.6 Z"/>
  <path d="M82 272.2 H95 L92 276 H85 Z"/>
  <path d="M85.9 276 H91.1 L90.6 281 C90.4 284 91.6 287 91.6 289.5 C91.6 292.4 90.1 293.6 88.5 293.6 C86.9 293.6 85.4 292.4 85.4 289.5 C85.4 287 86.6 284 86.4 281 Z"/>
  <circle cx="88.5" cy="290" r="0.9" fill="#1e2345"/>
 </g>
 <!-- 4 flashing -->
 <path d="M364.8 434.4 L393 414.1 L381.5 423.8 L383 427.2 L365.2 435.6 Z" fill="#c4c4c4"/>
 <path d="M381.2 423.6 L393.1 414.1 L403.5 434 L392.4 442.4 L382.6 427 Z"/>
 <!-- 8 house body -->
 <path d="M670.25 573 L685.3 560.25 L700.6 573 V591.4 H670.25 Z"/>
</g>

<g opacity="0.995">
<text transform="translate(46.10,186.35) scale(1.1803,1)">Available in cut</text>
<text transform="translate(45.48,207.20) scale(1.2032,1)">lengths of up</text>
<text transform="translate(46.45,227.65) scale(1.2318,1)">to 9m</text>
<text transform="translate(66.36,318.70) scale(1.1145,1)">PVC Plastisol</text>
<text transform="translate(66.33,339.60) scale(1.2011,1)">Coating</text>
<text transform="translate(225.05,428.50) scale(1.0593,1)">11 Colours</text>
<text transform="translate(225.60,449.20) scale(1.1763,1)">Available</text>
<text transform="translate(355.89,473.10) scale(1.2396,1)">Matching</text>
<text transform="translate(356.02,493.75) scale(1.1384,1)">Flashings</text>
<text transform="translate(356.25,514.40) scale(1.1717,1)">Available</text>
<text transform="translate(282.77,598.40) scale(1.2566,1)">Minimum Pitch</text>
<text transform="translate(283.48,618.85) scale(1.1447,1)">4 degrees</text>
<text transform="translate(463.15,559.00) scale(1.2447,1)">0.7mm</text>
<text transform="translate(463.39,579.75) scale(1.1184,1)">Thickness</text>
<text transform="translate(572.43,547.50) scale(1.2149,1)">Dripstop</text>
<text transform="translate(573.10,568.10) scale(1.1663,1)">Available</text>
<text transform="translate(658.26,625.60) scale(1.1470,1)">Roof Or Side</text>
<text transform="translate(657.91,646.10) scale(1.2278,1)">Cladding</text>
<text transform="translate(658.90,667.20) scale(1.2305,1)">Application</text>
</g>
</svg>
</body></html>
